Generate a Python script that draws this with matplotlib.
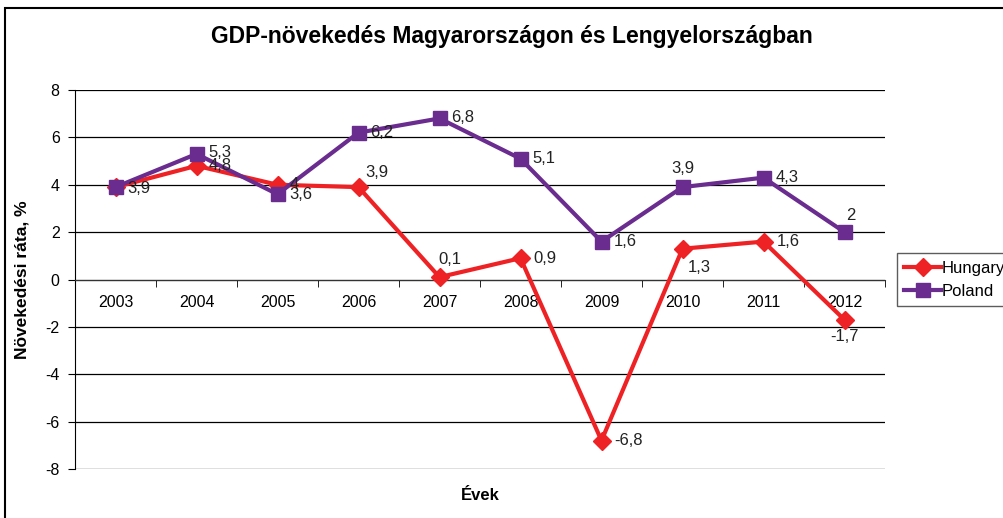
import numpy as np
import matplotlib
matplotlib.use("Agg")
import matplotlib.pyplot as plt
from matplotlib.patches import Rectangle

years   = ["2003", "2004", "2005", "2006", "2007", "2008", "2009", "2010", "2011", "2012"]
hungary = [3.9, 4.8, 4.0, 3.9, 0.1, 0.9, -6.8, 1.3, 1.6, -1.7]
poland  = [3.9, 5.3, 3.6, 6.2, 6.8, 5.1, 1.6, 3.9, 4.3, 2.0]

HU_COLOR = "#EE2224"
PL_COLOR = "#6A2C8E"

# label placement per point: (dx, dy in px, ha)
hu_offsets = [None, (12, 0, "left"), (12, 0, "left"), (7, 15, "left"), (10, 18, "center"),
              (13, 0, "left"), (13, 0, "left"), (5, -19, "left"), (13, 0, "left"), (0, -17, "center")]
pl_offsets = [(12, -1, "left"), (12, 1, "left"), (12, 0, "left"), (12, 0, "left"), (12, 1, "left"),
              (12, 0, "left"), (12, 0, "left"), (0, 19, "center"), (12, 0, "left"), (6, 17, "center")]


def fmt(v):
    s = f"{v:.1f}".rstrip("0").rstrip(".")
    return s.replace(".", ",")


plt.rcParams["font.family"] = ["Liberation Sans", "DejaVu Sans"]
plt.rcParams["axes.unicode_minus"] = False

fig = plt.figure(figsize=(10.04, 5.18), dpi=100)
fig.patches.append(Rectangle((5 / 1004, -0.1), 1.2, 1 - 8 / 518 + 0.1, transform=fig.transFigure,
                             fill=False, edgecolor="black", linewidth=1.5))

ax = fig.add_axes([75 / 1004, 1 - 469 / 518, 810 / 1004, 379 / 518])
x = np.arange(len(years))

ax.plot(x, hungary, color=HU_COLOR, lw=3, marker="D", ms=9, label="Hungary", zorder=3)
ax.plot(x, poland, color=PL_COLOR, lw=3, marker="s", ms=10.5, label="Poland", zorder=4)

for xs, vals, offs in [(x, hungary, hu_offsets), (x, poland, pl_offsets)]:
    for xi, v, o in zip(xs, vals, offs):
        if o is None:
            continue
        dx, dy, ha = o
        ax.annotate(fmt(v), (xi, v), xytext=(dx * 0.72, dy * 0.72), textcoords="offset points",
                    ha=ha, va="center", fontsize=12, color="#222222", zorder=5)

ax.set_xlim(-0.5, len(years) - 0.5)
ax.set_ylim(-8, 8)
ax.set_yticks(range(-8, 9, 2))
ax.yaxis.grid(True, color="black", lw=0.9)
ax.set_axisbelow(True)

ax.spines["bottom"].set_position(("data", 0))
ax.spines["top"].set_visible(False)
ax.spines["right"].set_visible(False)
ax.spines["bottom"].set_color("#333333")

ax.set_xticks(x)
ax.set_xticklabels(years, fontsize=11.5)
ax.tick_params(axis="x", which="major", length=0, pad=11)
ax.set_xticks(np.arange(-0.5, len(years), 1), minor=True)
ax.tick_params(axis="x", which="minor", length=5, direction="out")
ax.tick_params(axis="y", length=5, direction="out", labelsize=11.5, pad=6)

ax.set_ylabel("Növekedési ráta, %", fontsize=12.5, fontweight="bold")
ax.yaxis.set_label_coords(-0.056, 0.5)
fig.text(480 / 1004, 1 - 495 / 518, "Évek", fontsize=12, fontweight="bold", ha="center", va="center")
fig.text(512 / 1004, 1 - 37 / 518, "GDP-növekedés Magyarországon és Lengyelországban",
         fontsize=16.5, fontweight="bold", ha="center", va="center")

fig.legend(loc="upper left", bbox_to_anchor=(897 / 1004, 1 - 253 / 518), fontsize=12,
           frameon=True, fancybox=False, edgecolor="#333333", handlelength=2.2,
           borderpad=0.45, labelspacing=0.5, handletextpad=0.0, borderaxespad=0)

fig.savefig("out.png", dpi=100)
